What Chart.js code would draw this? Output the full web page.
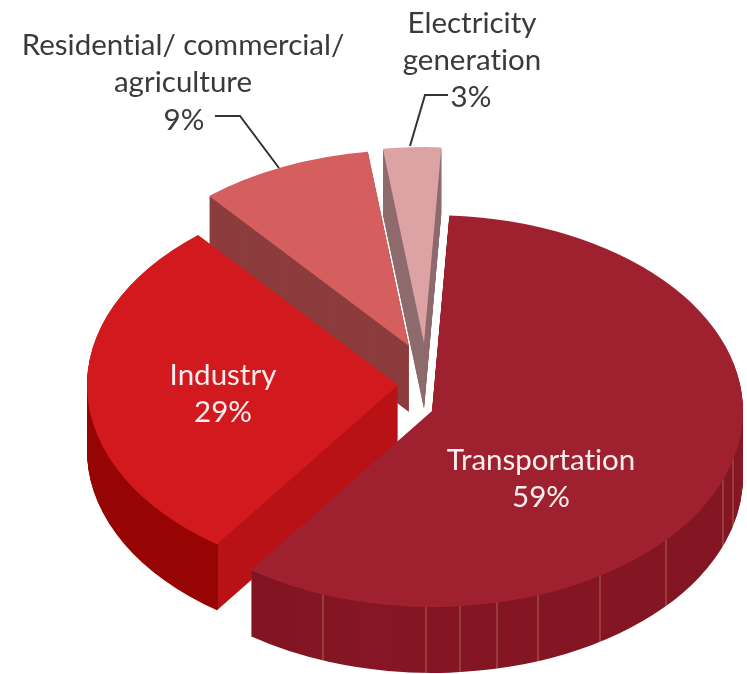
<!DOCTYPE html>
<html>
<head>
<meta charset="utf-8">
<style>
  html, body { margin: 0; padding: 0; background: #fff; }
  #wrap { width: 747px; height: 674px; }
</style>
<script src="https://cdn.jsdelivr.net/npm/chart.js@4"></script>
</head>
<body>
<div id="wrap"><canvas id="pie"></canvas></div>
<script>
var categories = ['Transportation', 'Industry', 'Residential/commercial/agriculture', 'Electricity generation'];
var shares = [59, 29, 9, 3];

var topColors = ['#9f2130', '#d1191e', '#d55e5e', '#dda2a3'];
var outerSideColors = ['#7d1320', '#970404', '#8c3c3c', '#8f6c6e'];
var cutSideColors = ['#7d1320', '#b91216', '#8c3c3c', '#8f6c6e'];

// page position of each slice's tip (the look of the exploded 3d pie)
var tipX = [432, 398, 409, 424];
var tipY = [411, 385, 346, 343];
var drawOrder = [3, 2, 1, 0];
var squash = 0.63;
var depth = 66;

var sideStreaks = [323, 426, 460, 497, 538, 600, 666, 723, 733];

var labels = [
  { lines: ['Transportation', '59%'], x: 541, y: 460, color: '#fbeeee' },
  { lines: ['Industry', '29%'], x: 223, y: 375, color: '#fbeeee' },
  { lines: ['Residential/ commercial/', 'agriculture'], x: 183, y: 45, color: '#3a3a3a' },
  { lines: ['9%'], x: 184, y: 120, color: '#3a3a3a' },
  { lines: ['Electricity', 'generation'], x: 472, y: 23, color: '#3a3a3a' },
  { lines: ['3%'], x: 471, y: 97, color: '#3a3a3a' }
];
var lineHeight = 37;

function sideGradient(ctx, idx, offsetX) {
  var g = ctx.createLinearGradient(offsetX, 0, offsetX + 747, 0);
  var i;
  if (idx === 0) {
    g.addColorStop(0, '#791220');
    g.addColorStop(0.5, '#861623');
    g.addColorStop(1, '#8c1924');
    for (i = 0; i < sideStreaks.length; i++) {
      var p = sideStreaks[i] / 747, w = 1 / 747;
      var base = '#841522';
      g.addColorStop(p - w, base);
      g.addColorStop(p - w / 2, '#9a3c3e');
      g.addColorStop(p + w / 2, '#9a3c3e');
      g.addColorStop(p + w, base);
    }
    return g;
  }
  if (idx === 1) {
    // outer wall left of the front corner, cut wall right of it
    g.addColorStop(218 / 747, outerSideColors[1]);
    g.addColorStop(218 / 747, cutSideColors[1]);
    return g;
  }
  return cutSideColors[idx];
}

var pie3d = {
  id: 'pie3d',
  beforeDatasetsDraw: function(chart) {
    var ctx = chart.ctx;
    var arcs = chart.getDatasetMeta(0).data;
    drawOrder.forEach(function(idx) {
      var el = arcs[idx];
      var opts = el.options;
      var offsetX = el.x - tipX[idx];
      function place(dy) {
        ctx.translate(tipX[idx], tipY[idx] + dy);
        ctx.scale(1, squash);
        ctx.translate(-el.x, -el.y);
      }
      // wall: same arc stacked downward
      el.options = Object.assign({}, opts, { backgroundColor: sideGradient(ctx, idx, offsetX) });
      for (var d = depth; d > 0; d--) {
        ctx.save();
        place(d);
        el.draw(ctx);
        ctx.restore();
      }
      el.options = opts;
      ctx.save();
      place(0);
      el.draw(ctx);
      ctx.restore();
    });
    return false;
  },
  afterDraw: function(chart) {
    var ctx = chart.ctx;
    ctx.save();
    ctx.strokeStyle = '#333';
    ctx.lineWidth = 2;
    ctx.beginPath();
    ctx.moveTo(215, 116); ctx.lineTo(240, 116); ctx.lineTo(279, 168);
    ctx.moveTo(448, 95); ctx.lineTo(425, 95); ctx.lineTo(410, 146);
    ctx.stroke();
    ctx.font = '29.5px Lato';
    ctx.letterSpacing = '0.01px'; // keeps "ti" from turning into a ligature
    ctx.textAlign = 'center';
    ctx.textBaseline = 'middle';
    labels.forEach(function(l) {
      ctx.fillStyle = l.color;
      l.lines.forEach(function(t, i) {
        ctx.fillText(t, l.x, l.y + i * lineHeight);
      });
    });
    ctx.restore();
  }
};

var chart = new Chart(document.getElementById('pie'), {
  type: 'pie',
  data: {
    labels: categories,
    datasets: [{
      data: shares,
      backgroundColor: topColors,
      borderWidth: 0
    }]
  },
  options: {
    responsive: true,
    maintainAspectRatio: false,
    animation: false,
    rotation: 3.2,
    radius: 311,
    plugins: {
      legend: { display: false },
      tooltip: { enabled: false }
    }
  },
  plugins: [pie3d]
});
</script>
</body>
</html>
